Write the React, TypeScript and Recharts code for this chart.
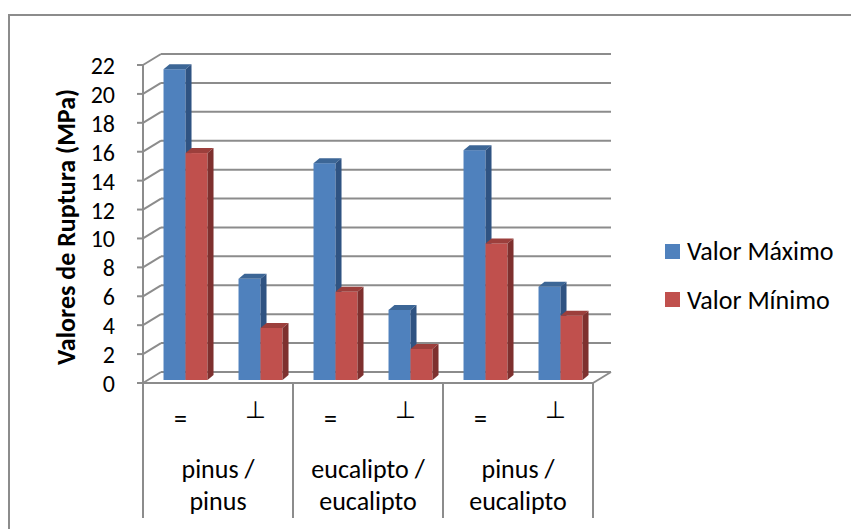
import { BarChart, Bar, XAxis, YAxis, CartesianGrid, Legend, Label } from "recharts"

const subCategories = ["=", "⊥", "=", "⊥", "=", "⊥"]
const groupLines = [
	["pinus /", "pinus"],
	["eucalipto /", "eucalipto"],
	["pinus /", "eucalipto"],
]
const maxValues = [21.5, 7.0, 15.0, 4.85, 15.9, 6.45]
const minValues = [15.7, 3.6, 6.1, 2.15, 9.45, 4.45]
const yTicks = [0, 2, 4, 6, 8, 10, 12, 14, 16, 18, 20, 22]

const data = subCategories.map((sub, i) => ({
	sub,
	group: groupLines[Math.floor(i / 2)],
	max: maxValues[i],
	min: minValues[i],
}))

const FONT = "Carlito, 'Open Sans', sans-serif"
const LINE = "#8c8c8c"

// layout of the 3d box: bars stand on a plane slightly behind the front edge
const W = 851
const H = 529
const PLOT_LEFT = 148
const PLOT_TOP = 62
const PLOT_BOTTOM = 380
const PLOT_W = 450
const BAND = PLOT_W / subCategories.length
const FRONT = { dx: -5, dy: 3 } // bar plane -> front edge
const BACK = { dx: 13, dy: -8 } // bar plane -> back wall
const DEPTH = { dx: 6, dy: -5 } // bar thickness
const LABEL_BOTTOM = 518

const BLUE = { front: "#4f81bd", top: "#3c6696", side: "#2f5382" }
const RED = { front: "#c0504d", top: "#9c3f3c", side: "#7e302e" }

function Prism(props: any) {
	const { x, y, width, height, tones } = props
	if (!height || height <= 0) return null
	const { dx, dy } = DEPTH
	return (
		<g>
			<rect x={x} y={y} width={width} height={height} fill={tones.front} />
			<polygon
				points={`${x},${y} ${x + dx},${y + dy} ${x + width + dx},${y + dy} ${x + width},${y}`}
				fill={tones.top}
			/>
			<polygon
				points={`${x + width},${y} ${x + width + dx},${y + dy} ${x + width + dx},${y + height + dy} ${x + width},${y + height}`}
				fill={tones.side}
			/>
		</g>
	)
}

function ValueTick(props: any) {
	const { y, payload } = props
	const fy = y + FRONT.dy
	const fx = PLOT_LEFT + FRONT.dx
	return (
		<g>
			<line x1={fx - 6} y1={fy} x2={fx} y2={fy} stroke={LINE} strokeWidth={2} />
			<line x1={fx} y1={fy} x2={PLOT_LEFT + BACK.dx} y2={y + BACK.dy} stroke={LINE} strokeWidth={2} />
			<text x={115} y={fy + 9} textAnchor="end" fontFamily={FONT} fontSize={24} fill="#000">
				{payload.value}
			</text>
		</g>
	)
}

function CategoryTick(props: any) {
	const { x, payload, index } = props
	const fx = x + FRONT.dx
	const fy = PLOT_BOTTOM + FRONT.dy
	const isPerp = payload.value === "⊥"
	const last = index === subCategories.length - 1
	const group = data[index].group
	return (
		<g>
			<text
				x={fx}
				y={isPerp ? 418 : 428}
				textAnchor="middle"
				fontFamily={FONT}
				fontSize={isPerp ? 24 : 26}
				fill="#000"
			>
				{payload.value}
			</text>
			{index % 2 === 0 && (
				<g>
					<line x1={fx - BAND / 2} y1={fy} x2={fx - BAND / 2} y2={LABEL_BOTTOM} stroke={LINE} strokeWidth={2} />
					<text x={fx + BAND / 2} y={478} textAnchor="middle" fontFamily={FONT} fontSize={26} fill="#000">
						{group[0]}
					</text>
					<text x={fx + BAND / 2} y={510} textAnchor="middle" fontFamily={FONT} fontSize={26} fill="#000">
						{group[1]}
					</text>
				</g>
			)}
			{last && (
				<g>
					<line x1={fx + BAND / 2} y1={fy} x2={fx + BAND / 2} y2={LABEL_BOTTOM} stroke={LINE} strokeWidth={2} />
					<line
						x1={fx + BAND / 2}
						y1={fy}
						x2={x + BAND / 2 + BACK.dx}
						y2={PLOT_BOTTOM + BACK.dy}
						stroke={LINE}
						strokeWidth={2}
					/>
				</g>
			)}
		</g>
	)
}

function BackGridLine(props: any) {
	const { x1, y1, x2, y2 } = props
	return (
		<line
			x1={x1 + BACK.dx}
			y1={y1 + BACK.dy}
			x2={x2 + BACK.dx}
			y2={y2 + BACK.dy}
			stroke={LINE}
			strokeWidth={2}
		/>
	)
}

const series = [
	{ key: "max", name: "Valor Máximo", tones: BLUE },
	{ key: "min", name: "Valor Mínimo", tones: RED },
]

function LegendBox() {
	return (
		<div style={{ fontFamily: FONT, fontSize: 26, color: "#000", lineHeight: 1 }}>
			{series.map((s) => (
				<div key={s.key} style={{ display: "flex", alignItems: "center", height: 48.5 }}>
					<span style={{ width: 15, height: 15, background: s.tones.front, marginRight: 7 }} />
					<span>{s.name}</span>
				</div>
			))}
		</div>
	)
}

export default function App() {
	return (
		<div style={{ position: "absolute", left: 0, top: 0, width: W, height: H, overflow: "hidden", background: "#fff" }}>
			<div
				style={{
					position: "absolute",
					left: 8,
					top: 14,
					width: W + 20,
					height: H + 20,
					borderLeft: `2px solid ${LINE}`,
					borderTop: `2px solid ${LINE}`,
				}}
			/>
			<div style={{ position: "absolute", left: 0, top: 0 }}>
				<BarChart
					width={W}
					height={H}
					data={data}
					margin={{ top: PLOT_TOP, right: W - PLOT_LEFT - PLOT_W, bottom: 0, left: 0 }}
					barCategoryGap="20.7%"
					barGap={0}
				>
					<CartesianGrid vertical={false} horizontal={(p: any) => <BackGridLine {...p} />} />
					<XAxis
						dataKey="sub"
						height={H - PLOT_BOTTOM}
						interval={0}
						tickLine={false}
						axisLine={{ stroke: LINE, strokeWidth: 2, transform: `translate(${FRONT.dx},${FRONT.dy})` }}
						tick={<CategoryTick />}
					/>
					<YAxis
						width={PLOT_LEFT}
						domain={[0, 22]}
						ticks={yTicks}
						interval={0}
						tickLine={false}
						axisLine={{ stroke: LINE, strokeWidth: 2, transform: `translate(${FRONT.dx},${FRONT.dy})` }}
						tick={<ValueTick />}
					>
						<Label
							content={() => (
								<text
									x={66}
									y={227}
									transform="rotate(-90 66 227)"
									textAnchor="middle"
									dominantBaseline="central"
									fontFamily={FONT}
									fontSize={26}
									fontWeight="bold"
									fill="#000"
								>
									Valores de Ruptura (MPa)
								</text>
							)}
						/>
					</YAxis>
					<Legend
						layout="vertical"
						align="center"
						verticalAlign="middle"
						wrapperStyle={{ left: 665, top: 227, width: "auto" }}
						content={<LegendBox />}
					/>
					{series.map((s) => (
						<Bar
							key={s.key}
							dataKey={s.key}
							name={s.name}
							fill={s.tones.front}
							isAnimationActive={false}
							shape={(p: any) => <Prism {...p} tones={s.tones} />}
						/>
					))}
				</BarChart>
			</div>
		</div>
	)
}
